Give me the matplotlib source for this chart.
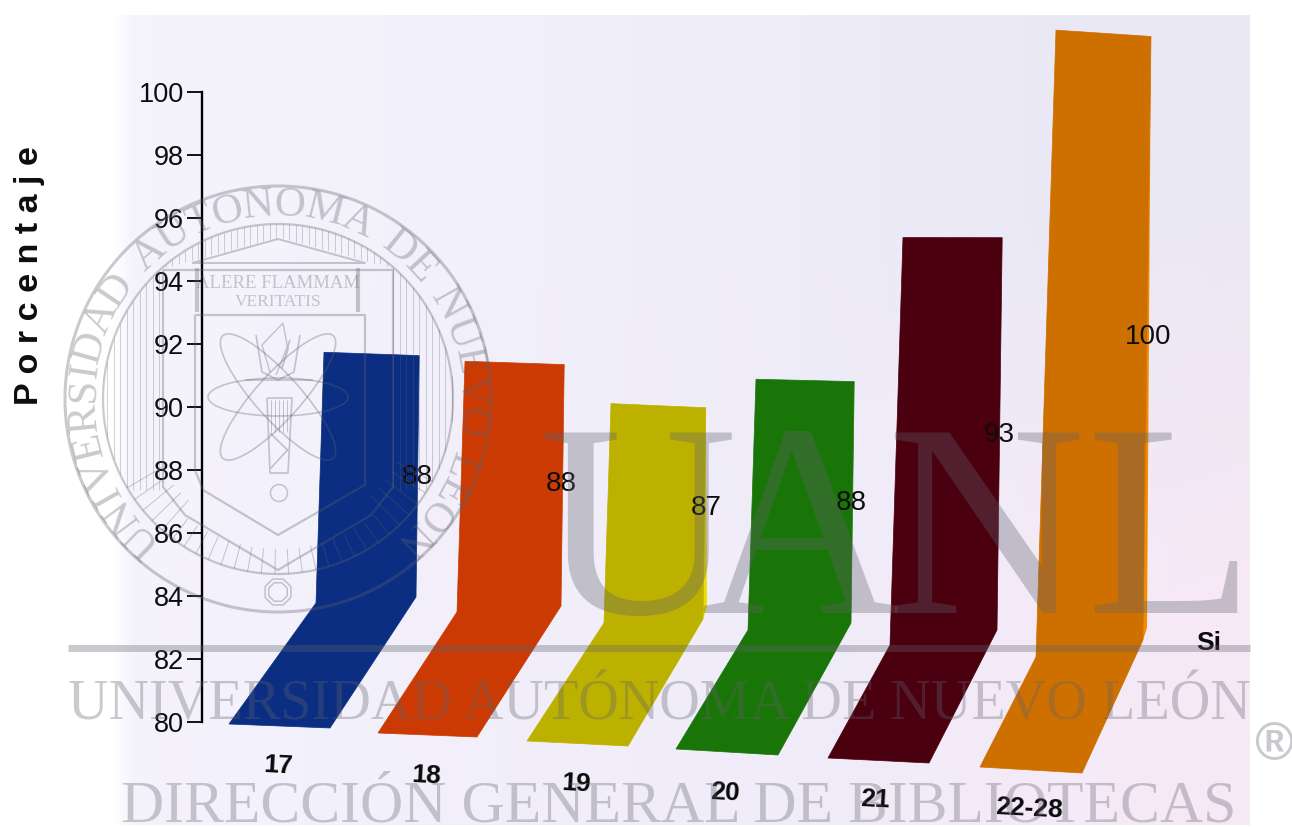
import numpy as np
import matplotlib
matplotlib.use('Agg')
import matplotlib.pyplot as plt
from matplotlib.patches import Ellipse, Circle

# chart values
categories = ['17', '18', '19', '20', '21', '22-28']
values = [88, 88, 87, 88, 93, 100]
y_ticks = [80, 82, 84, 86, 88, 90, 92, 94, 96, 98, 100]
bar_colors = ['#0B2E82', '#CB3A02', '#BDB100', '#1A7508', '#4B0010', '#CD7000']
side_colors = [None, None, '#E8DE00', None, None, '#F58C00']

# layout of the pseudo 3d ribbons, pixels of the original picture
front_left = [(229, 724), (378, 733), (527, 741), (676, 749), (828, 758), (980, 767)]
front_right = [(330, 728), (477, 737), (628, 746), (778, 755), (929, 763), (1082, 773)]
back_left = [(316, 603), (457, 612), (604, 623), (748, 630), (890, 645), (1036, 657)]
back_right = [(416, 597), (561, 606), (703, 619), (851, 623), (997, 630), (1143, 640)]
cat_label_pos = [(278, 766), (426, 776), (576, 784), (725, 793), (875, 800), (1029, 809)]
val_label_pos = [(417, 477), (561, 484), (706, 508), (851, 503), (999, 435), (1148, 337)]

WIDTH, HEIGHT = 1292, 827
PX_PER_UNIT = 31.5
Y80_PX = 722
FONT = 'Liberation Sans'
SERIF = 'Liberation Serif'
WM = '#60606C'
WM_ALPHA = 0.33


def to_val(py):
    return 80 + (Y80_PX - py) / PX_PER_UNIT


def draw_ribbon(ax, i):
    v = values[i] - 80
    fl, fr, bl, br = front_left[i], front_right[i], back_left[i], back_right[i]
    # wall height comes from the value, the right side is a bit foreshortened
    tl = (bl[0] + 1.0 * v, to_val(bl[1]) + v * 0.995)
    tr = (br[0] + 0.4 * v, to_val(br[1]) + v * 0.958)
    xs = [fl[0], fr[0], br[0], tr[0], tl[0], bl[0]]
    ys = [to_val(fl[1]), to_val(fr[1]), to_val(br[1]), tr[1], tl[1], to_val(bl[1])]
    ax.fill(xs, ys, color=bar_colors[i], lw=0.5, zorder=3)
    if side_colors[i]:
        ax.fill([br[0], br[0] + 4, tr[0]], [to_val(br[1]), to_val(br[1] - 12), tr[1]],
                color=side_colors[i], lw=0, zorder=2.9)


def wm_line(wm, x, y, lw=1.2):
    wm.plot(x, y, color=WM, alpha=WM_ALPHA, lw=lw, solid_capstyle='butt')


def draw_seal(wm):
    cx, cy = 278, 399
    for r, lw in [(213, 2.2), (175, 1.6)]:
        wm.add_patch(Circle((cx, cy), r, fill=False, ec=WM, alpha=WM_ALPHA, lw=lw))
    # vertical hatching behind the temple and shield
    for x0 in np.arange(107, 452, 6.5):
        dy = np.sqrt(175 ** 2 - (x0 - cx) ** 2)
        if 163 < x0 < 393:
            wm_line(wm, [x0, x0], [cy - dy, np.interp(x0, [163, 278, 393], [268, 237, 268])], lw=0.6)
        else:
            wm_line(wm, [x0, x0], [cy - dy, min(cy + dy, 490)], lw=0.6)
    # radial hatching under the shield
    for a in np.arange(28, 153, 4.5):
        t = np.radians(a)
        r0 = 150 if 50 < a < 130 else 135
        wm_line(wm, [cx + r0 * np.cos(t), cx + 175 * np.cos(t)],
                [cy + r0 * np.sin(t), cy + 175 * np.sin(t)], lw=0.7)
    # lettering round the ring, spaced by rough letter widths
    ring = 'UNIVERSIDAD AUTONOMA DE NUEVO LEON'
    widths = {'I': 0.4, ' ': 0.4, 'M': 0.95, 'E': 0.65, 'R': 0.7, 'S': 0.6, 'L': 0.65, 'T': 0.65}
    w = np.array([widths.get(ch, 0.76) for ch in ring])
    pos = np.cumsum(w) - w / 2
    angles = 226 - 272 * (pos - pos[0]) / (pos[-1] - pos[0])
    for ch, a in zip(ring, angles):
        t = np.radians(a)
        wm.text(cx + 194 * np.cos(t), cy - 194 * np.sin(t), ch, family=SERIF, fontsize=31,
                rotation=a - 90, rotation_mode='anchor', ha='center', va='center',
                color=WM, alpha=WM_ALPHA)
    # outer shield
    sx = [163, 163, 185, 278, 371, 393, 393, 163]
    sy = [270, 487, 515, 570, 515, 487, 270, 270]
    wm_line(wm, sx, sy, lw=1.6)
    # inner shield
    wm_line(wm, [195, 365, 365, 278, 203, 195, 195], [315, 315, 485, 535, 490, 470, 315], lw=1.6)
    # pediment and columns
    wm_line(wm, [192, 278, 365, 192], [263, 239, 263, 263], lw=1.4)
    for x0 in [358, 197]:
        wm_line(wm, [x0, x0], [268, 312], lw=3)
    wm.text(278, 283, 'ALERE FLAMMAM', family=SERIF, fontsize=13.5, ha='center', va='center',
            color=WM, alpha=WM_ALPHA)
    wm.text(278, 302, 'VERITATIS', family=SERIF, fontsize=12.5, ha='center', va='center',
            color=WM, alpha=WM_ALPHA)
    # atom and torch
    wm.add_patch(Ellipse((278, 397), 140, 38, fill=False, ec=WM, alpha=WM_ALPHA, lw=1.2))
    for ang in [48, -48]:
        wm.add_patch(Ellipse((278, 397), 165, 45, angle=ang, fill=False, ec=WM,
                             alpha=WM_ALPHA, lw=1.2))
    wm_line(wm, [267, 292, 288, 270, 267], [398, 398, 473, 473, 398], lw=1.2)
    for x0 in [271, 275, 279, 283, 287]:
        wm_line(wm, [x0, x0], [400, 432], lw=0.7)
    wm_line(wm, [270, 288, 271, 287, 270], [433, 450, 468, 450, 433], lw=0.8)
    wm_line(wm, [245, 313], [380, 380], lw=1.2)
    wm_line(wm, [256, 262, 278, 294, 300], [335, 372, 380, 372, 335], lw=1.2)
    wm_line(wm, [270, 262, 283, 288, 282, 290, 276], [372, 345, 323, 350, 368, 340, 375], lw=1.0)
    wm.add_patch(Circle((279, 493), 8.5, fill=False, ec=WM, alpha=WM_ALPHA, lw=1.1))
    t = np.radians(np.arange(22.5, 383, 45))
    for r in [14, 10]:
        wm_line(wm, 278 + r * np.cos(t), 592 + r * np.sin(t), lw=1.1)


fig = plt.figure(figsize=(WIDTH / 100, HEIGHT / 100), dpi=100)

# paper tint of the scan
bg = fig.add_axes([0, 0, 1, 1], zorder=0)
bg.axis('off')
col_x = np.arange(0, 1250, 4)
tint = np.zeros((2, len(col_x), 4))
knots = [0, 300, 800, 1100, 1250]
top_rgb = [[246, 244, 252], [244, 242, 251], [238, 236, 248], [234, 232, 245], [235, 233, 243]]
bot_rgb = [[246, 243, 252], [243, 241, 251], [240, 236, 249], [246, 234, 247], [248, 232, 246]]
for c in range(3):
    tint[0, :, c] = np.interp(col_x, knots, [r[c] for r in top_rgb]) / 255
    tint[1, :, c] = np.interp(col_x, knots, [r[c] for r in bot_rgb]) / 255
tint[:, :, 3] = np.clip((col_x - 112) / 20, 0, 1)
bg.imshow(tint, extent=(0, 1250, 825, 15), aspect='auto', interpolation='bilinear')
bg.set_xlim(0, WIDTH)
bg.set_ylim(HEIGHT, 0)

# the chart itself
ax = fig.add_axes([0, 0, 1, 1], zorder=1)
ax.patch.set_alpha(0)
ax.set_xlim(0, WIDTH)
ax.set_ylim(to_val(HEIGHT), to_val(0))
for s in ['top', 'right', 'bottom']:
    ax.spines[s].set_visible(False)
ax.spines['left'].set_position(('data', 202))
ax.spines['left'].set_bounds(80, 100)
ax.spines['left'].set_linewidth(1.7)
ax.set_xticks([])
ax.set_yticks(y_ticks)
ax.tick_params(axis='y', length=10.5, width=1.3, pad=2.5, labelsize=19.5)
for lab in ax.get_yticklabels():
    lab.set_family(FONT)
    lab.set_color('#0d0d0d')

for i in range(len(values)):
    draw_ribbon(ax, i)
    px, py = cat_label_pos[i]
    ax.text(px, to_val(py), categories[i], family=FONT, fontsize=19, fontweight='bold',
            ha='center', va='center', rotation=-3, color='#0a0a0a', zorder=5)
    px, py = val_label_pos[i]
    ax.text(px, to_val(py), str(values[i]), family=FONT, fontsize=20,
            ha='center', va='center', color='#0d0d0d', zorder=5)

ax.text(1209, to_val(643), 'Si', family=FONT, fontsize=19, fontweight='bold',
        ha='center', va='center', color='#0a0a0a', zorder=5)
ax.text(30, to_val(276), 'P o r c e n t a j e', family=FONT, fontsize=24.5, fontweight='bold',
        rotation=90, ha='center', va='center', color='#0d0d0d', zorder=5)

# library watermark printed over everything
wm = fig.add_axes([0, 0, 1, 1], zorder=2)
wm.patch.set_alpha(0)
wm.axis('off')
draw_seal(wm)
wm_line(wm, [68, 1250], [648, 648], lw=5)
for ch, x0 in zip('UANL', [638, 800, 985, 1170]):
    wm.text(x0, 613, ch, family=SERIF, fontsize=198, ha='center', va='baseline',
            color=WM, alpha=WM_ALPHA)
wm.text(659, 720, 'UNIVERSIDAD AUTÓNOMA DE NUEVO LEÓN', family=SERIF, fontsize=40.5,
        ha='center', va='baseline', color=WM, alpha=WM_ALPHA)
wm.text(679, 821, 'DIRECCIÓN GENERAL DE BIBLIOTECAS', family=SERIF, fontsize=43,
        ha='center', va='baseline', color=WM, alpha=WM_ALPHA)
wm.text(1274, 746, '®', family=FONT, fontsize=38, fontweight='bold', ha='center', va='center',
        color=WM, alpha=WM_ALPHA)
wm.set_xlim(0, WIDTH)
wm.set_ylim(HEIGHT, 0)

fig.savefig('out.png', dpi=100)
